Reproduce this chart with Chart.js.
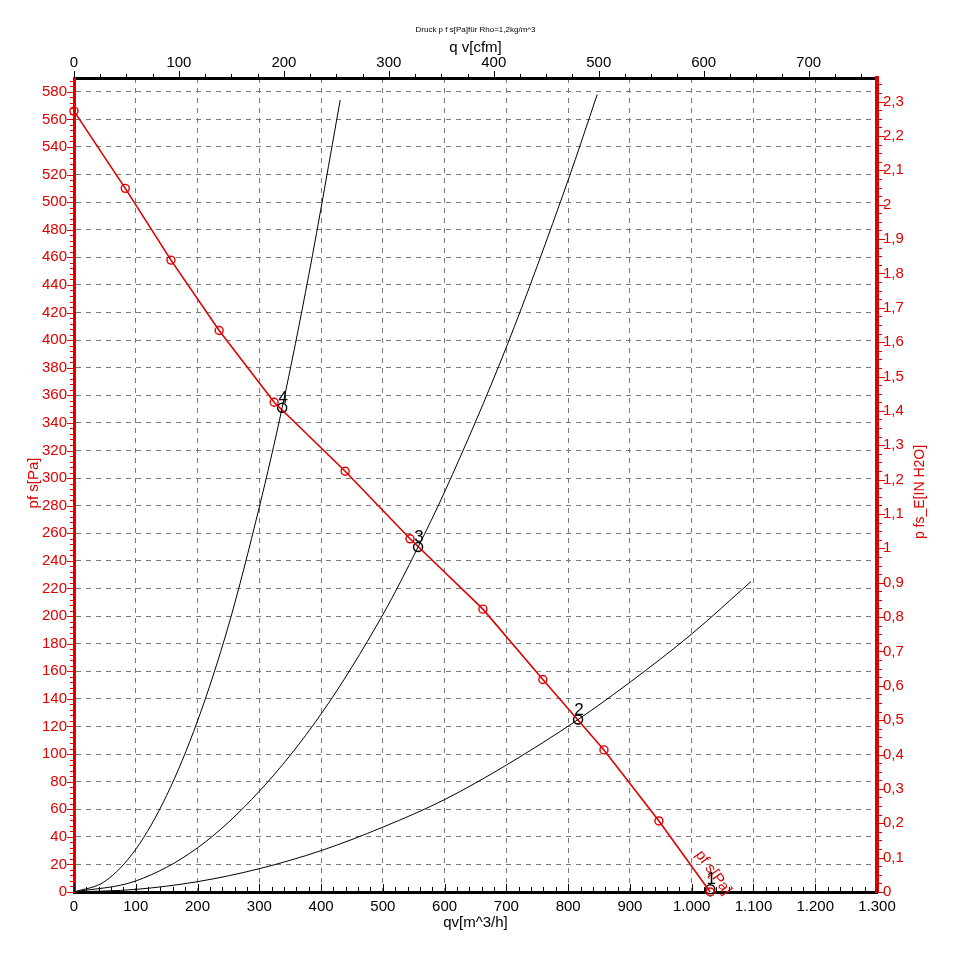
<!DOCTYPE html>
<html><head><meta charset="utf-8">
<script src="https://cdn.jsdelivr.net/npm/chart.js@4.4.0/dist/chart.umd.min.js"></script>
<style>html,body{margin:0;padding:0;background:#fff;}#wrap{width:953px;height:972px;}</style>
</head><body><div id="wrap"><canvas id="c" width="953" height="972"></canvas></div>
<script>
// ---- tick labels ----
const qvTicks  = [0,100,200,300,400,500,600,700,800,900,1000,1100,1200,1300];
const cfmTicks = [0,100,200,300,400,500,600,700];
const paTicks  = [0,20,40,60,80,100,120,140,160,180,200,220,240,260,280,300,320,340,360,380,400,420,440,460,480,500,520,540,560,580];
const inTicks  = [0,0.1,0.2,0.3,0.4,0.5,0.6,0.7,0.8,0.9,1,1.1,1.2,1.3,1.4,1.5,1.6,1.7,1.8,1.9,2,2.1,2.2,2.3];

// ---- fan curve (red) ----
const fanQv = [0, 83, 157, 235, 324, 439, 544, 662, 759, 858, 947, 1030];
const fanPa = [566, 510, 458, 407, 355, 305, 256, 205, 154, 103, 51.5, 0];

// ---- system curves (black) ----
const sys4Qv = [0, 50, 100, 150, 200, 250, 300, 337, 380, 431];
const sys4Pa = [0, 7.7, 31, 70, 124, 193, 279, 351, 447, 574];
const sys3Qv = [0, 100, 200, 300, 400, 500, 557, 600, 700, 800, 847];
const sys3Pa = [0, 8, 32, 73, 129, 201, 250, 290, 395, 516, 578];
const sys2Qv = [0, 100, 200, 300, 400, 500, 600, 700, 816, 900, 1000, 1096];
const sys2Pa = [0, 1.9, 7.5, 16.9, 30, 47, 67, 92, 125, 152, 187, 225];

// ---- operating points ----
const opQv = [1030, 816, 557, 337];
const opPa = [2, 125, 250, 351];
const opLabels = ['1', '2', '3', '4'];

const QV_PER_CFM = 1.69901;
const PA_PER_INH2O = 249.089;
const QV_MAX = 1300, PA_MAX = 590;

const RED = '#e00000';
const FONT = "'Liberation Sans', Arial, sans-serif";

const pts = (xs, ys) => xs.map((x, i) => ({x: x, y: ys[i]}));
const fmtQv = v => v >= 1000 ? Math.floor(v / 1000) + '.' + String(v % 1000).padStart(3, '0') : String(v);
const fmtIn = v => String(Math.round(v * 10) / 10).replace('.', ',');

const decor = {
  id: 'decor',
  afterDraw(chart) {
    const ctx = chart.ctx, a = chart.chartArea;
    const sx = chart.scales.x, sy = chart.scales.y, sx2 = chart.scales.x2, sy2 = chart.scales.y2;
    ctx.save();
    ctx.lineWidth = 1;
    // left minor/major ticks
    ctx.strokeStyle = RED;
    for (let v = 0; v <= 590; v += 4) {
      const y = Math.round(sy.getPixelForValue(v)) + 0.5;
      const len = (v % 20 === 0) ? 6 : 3;
      ctx.beginPath(); ctx.moveTo(a.left - len - 1, y); ctx.lineTo(a.left, y); ctx.stroke();
    }
    // right ticks
    for (let i = 0; i * 0.025 <= 590 / PA_INH2O_SAFE(); i++) {
      const v = i * 0.025;
      const y = Math.round(sy2.getPixelForValue(v)) + 0.5;
      const len = (i % 4 === 0) ? 6 : 3;
      ctx.beginPath(); ctx.moveTo(a.right, y); ctx.lineTo(a.right + len + 2, y); ctx.stroke();
    }
    // bottom ticks (inward)
    ctx.strokeStyle = '#000';
    for (let v = 0; v <= 1300; v += 20) {
      const x = Math.round(sx.getPixelForValue(v)) + 0.5;
      const len = (v % 100 === 0) ? 7 : 4;
      ctx.beginPath(); ctx.moveTo(x, a.bottom); ctx.lineTo(x, a.bottom - len - 1); ctx.stroke();
    }
    // top ticks (outward)
    for (let v = 0; v <= 765; v += 25) {
      const x = Math.round(sx2.getPixelForValue(v)) + 0.5;
      const len = (v % 100 === 0) ? 6 : 3;
      ctx.beginPath(); ctx.moveTo(x, a.top); ctx.lineTo(x, a.top - len - 1); ctx.stroke();
    }
    // titles
    ctx.fillStyle = '#000';
    ctx.textAlign = 'center';
    ctx.textBaseline = 'alphabetic';
    ctx.font = '8px ' + FONT;
    ctx.fillText('Druck p f s[Pa]für Rho=1,2kg/m^3', (a.left + a.right) / 2, 32);
    ctx.font = '15px ' + FONT;
    ctx.fillText('q v[cfm]', (a.left + a.right) / 2, 52);
    ctx.fillText('qv[m^3/h]', (a.left + a.right) / 2, 927);
    // left title
    ctx.fillStyle = RED;
    ctx.save(); ctx.translate(38, 483); ctx.rotate(-Math.PI / 2);
    ctx.fillText('pf s[Pa]', 0, 0); ctx.restore();
    // right title
    ctx.save(); ctx.font = '14px ' + FONT; ctx.translate(924, 492); ctx.rotate(-Math.PI / 2);
    ctx.fillText('p fs_E[IN H2O]', 0, 0); ctx.restore();
    // curve label along the fan line end
    const n = fanQv.length;
    const p1x = sx.getPixelForValue(fanQv[n - 2]), p1y = sy.getPixelForValue(fanPa[n - 2]);
    const p2x = sx.getPixelForValue(fanQv[n - 1]), p2y = sy.getPixelForValue(fanPa[n - 1]);
    const ang = Math.atan2(p2y - p1y, p2x - p1x);
    ctx.save(); ctx.font = '15px ' + FONT;
    ctx.translate(sx.getPixelForValue(1035), sy.getPixelForValue(14)); ctx.rotate(ang);
    ctx.textBaseline = 'middle';
    ctx.fillText('pf s[Pa]', 0, 0); ctx.restore();
    // operating point labels
    ctx.fillStyle = '#000';
    ctx.font = '17px ' + FONT;
    ctx.textBaseline = 'alphabetic';
    opLabels.forEach((t, i) => {
      const x = sx.getPixelForValue(opQv[i]) + 1;
      const y = sy.getPixelForValue(opPa[i]) - 5;
      ctx.fillText(t, x, y);
    });
    ctx.restore();
  }
};
function PA_INH2O_SAFE() { return PA_PER_INH2O; }

const sysStyle = {showLine: true, borderColor: '#000', borderWidth: 1, pointRadius: 0, cubicInterpolationMode: 'monotone', fill: false};

new Chart(document.getElementById('c'), {
  type: 'scatter',
  data: {
    datasets: [
      Object.assign({data: pts(sys4Qv, sys4Pa)}, sysStyle),
      Object.assign({data: pts(sys3Qv, sys3Pa)}, sysStyle),
      Object.assign({data: pts(sys2Qv, sys2Pa)}, sysStyle),
      {data: pts(fanQv, fanPa), showLine: true, borderColor: RED, borderWidth: 1.6, tension: 0,
       pointRadius: 4, pointHoverRadius: 4, pointBorderColor: RED, pointBorderWidth: 1.4,
       pointBackgroundColor: 'rgba(255,255,255,0)', clip: false},
      {data: pts(opQv, opPa), showLine: false, pointRadius: 4.5, pointHoverRadius: 4.5,
       pointBorderColor: '#000', pointBorderWidth: 1.5, pointBackgroundColor: '#fff', clip: false}
    ]
  },
  options: {
    responsive: false, animation: false, devicePixelRatio: 1,
    layout: {padding: 0},
    plugins: {legend: {display: false}, tooltip: {enabled: false}, title: {display: false}},
    events: [],
    scales: {
      x: {type: 'linear', position: 'bottom', min: 0, max: QV_MAX,
          afterBuildTicks: s => { s.ticks = qvTicks.map(v => ({value: v})); },
          afterFit: s => { s.height = 80; },
          grid: {color: '#7a7a7a', lineWidth: 1, drawTicks: false},
          border: {color: '#000', width: 3, dash: [5, 5]},
          ticks: {color: '#000', font: {family: FONT, size: 15}, padding: 6, maxRotation: 0, autoSkip: false, callback: fmtQv}},
      x2: {type: 'linear', position: 'top', min: 0, max: QV_MAX / QV_PER_CFM,
          afterBuildTicks: s => { s.ticks = cfmTicks.map(v => ({value: v})); },
          afterFit: s => { s.height = 78; },
          grid: {drawOnChartArea: false, drawTicks: false},
          border: {color: '#000', width: 3},
          ticks: {color: '#000', font: {family: FONT, size: 15}, padding: 6, maxRotation: 0, autoSkip: false, callback: v => String(v)}},
      y: {type: 'linear', position: 'left', min: 0, max: PA_MAX,
          afterBuildTicks: s => { s.ticks = paTicks.map(v => ({value: v})); },
          afterFit: s => { s.width = 74; },
          grid: {color: '#7a7a7a', lineWidth: 1, drawTicks: false},
          border: {color: RED, width: 3, dash: [5, 5]},
          ticks: {color: RED, font: {family: FONT, size: 15}, padding: 7, autoSkip: false, callback: v => String(v)}},
      y2: {type: 'linear', position: 'right', min: 0, max: PA_MAX / PA_PER_INH2O,
          afterBuildTicks: s => { s.ticks = inTicks.map(v => ({value: v})); },
          afterFit: s => { s.width = 76; },
          grid: {drawOnChartArea: false, drawTicks: false},
          border: {color: RED, width: 4},
          ticks: {color: RED, font: {family: FONT, size: 15}, padding: 6, autoSkip: false, callback: fmtIn}}
    }
  },
  plugins: [decor]
});
</script>
</body></html>
